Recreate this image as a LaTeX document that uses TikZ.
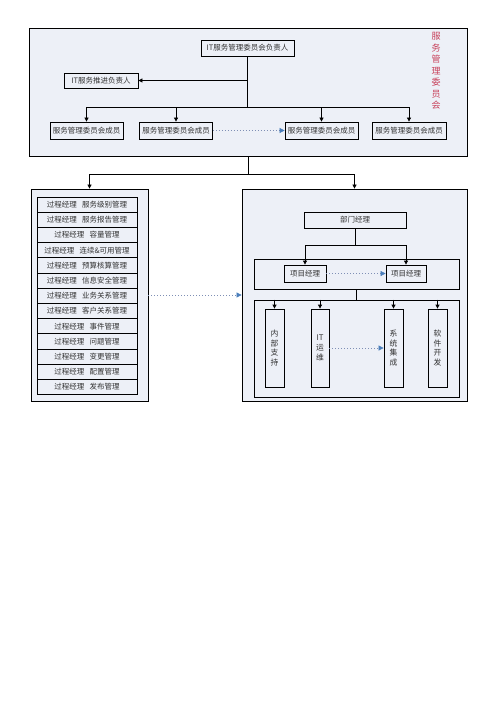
\documentclass[tikz,border=0pt]{standalone}
\usepackage{fontspec}
\newfontfamily\cjk{Noto Sans CJK SC}
\usetikzlibrary{arrows.meta}
\definecolor{bgc}{HTML}{EDF0F7}
\definecolor{txt}{HTML}{333333}
\definecolor{redtxt}{HTML}{C8405A}
\definecolor{dotc}{HTML}{7F8FB5}
\definecolor{headblue}{HTML}{4A7EBB}
\tikzset{
  box/.style={draw, fill=bgc, line width=0.8pt, inner sep=0pt, text=txt,
    font=\cjk\fontsize{7.5}{8}\selectfont},
  cont/.style={draw, fill=bgc, line width=0.8pt, inner sep=0pt},
  vbox/.style={draw, fill=bgc, line width=0.8pt, inner sep=0pt, text=txt, align=center,
    minimum width=19pt, minimum height=78pt,
    font=\cjk\fontsize{7.8}{9.7}\selectfont},
  conn/.style={line width=0.8pt},
  arr/.style={line width=0.8pt, -{Triangle[length=4pt,width=4pt]}},
  dotarr/.style={draw=dotc, line width=0.7pt, dash pattern=on 0.7pt off 2.3pt,
    -{Triangle[length=5pt,width=5pt,color=headblue,fill=headblue]}}
}
\newcommand{\gapsp}{\hspace{0.7em}}
\begin{document}
\begin{tikzpicture}[x=1pt,y=-1pt]
\useasboundingbox (0,0) rectangle (497,703);
% ---------- top committee ----------
\node[cont, minimum width=438pt, minimum height=128pt] (top) at (248,92) {};
\node[box, minimum width=93pt, minimum height=16pt] (head) at (247.5,48) {IT服务管理委员会负责人};
\node[box, minimum width=74pt, minimum height=15pt] (promo) at (101,80.5) {IT服务推进负责人};
\node[box, minimum width=73pt, minimum height=17pt] (m1) at (86.5,130.5) {服务管理委员会成员};
\node[box, minimum width=73pt, minimum height=17pt] (m2) at (176,130.5) {服务管理委员会成员};
\node[box, minimum width=73pt, minimum height=17pt] (m3) at (321.5,130.5) {服务管理委员会成员};
\node[box, minimum width=74pt, minimum height=17pt] (m4) at (409,130.5) {服务管理委员会成员};
\node[text=redtxt, align=center, inner sep=0pt, font=\cjk\fontsize{9}{11.5}\selectfont] (title) at (436,71)
  {服\\务\\管\\理\\委\\员\\会};
\coordinate (j1) at (247.5,80.5);
\coordinate (j2) at (247.5,107);
\draw[conn] (head.south) -- (j2);
\draw[arr] (j1) -- (promo.east);
\draw[arr] (j2) -| (m1.north);
\draw[arr] (j2) -| (m2.north);
\draw[arr] (j2) -| (m3.north);
\draw[arr] (j2) -| (m4.north);
\draw[dotarr] (m2.east) -- (m3.west);
% ---------- lower containers ----------
\node[cont, minimum width=117pt, minimum height=212pt] (left) at (89.5,295) {};
\node[cont, minimum width=225pt, minimum height=212pt] (right) at (354.5,295) {};
\coordinate (j3) at (248,174);
\draw[conn] (top.south) -- (j3);
\draw[arr] (j3) -| (left.north);
\draw[arr] (j3) -| (right.north);
% ---------- process managers ----------
\foreach \t [count=\i from 0] in {服务级别管理, 服务报告管理, 容量管理,
  连续\&可用管理, 预算核算管理, 信息安全管理, 业务关系管理,
  客户关系管理, 事件管理, 问题管理, 变更管理, 配置管理, 发布管理}{
  \node[box, minimum width=100pt, minimum height=15.2pt] (p\i) at (87,{204.6+15.2*\i}) {过程经理\gapsp\t};
}
\draw[dotarr] (left.east) -- (right.west);
% ---------- department ----------
\node[box, minimum width=102pt, minimum height=16pt] (dept) at (355,220) {部门经理};
\node[cont, minimum width=205pt, minimum height=30pt] (mid) at (356.5,274) {};
\node[cont, minimum width=205pt, minimum height=97pt] (bot) at (356.5,348.5) {};
\node[box, minimum width=42pt, minimum height=17pt] (pm1) at (305,273.5) {项目经理};
\node[box, minimum width=40pt, minimum height=17pt] (pm2) at (406,273.5) {项目经理};
\coordinate (j4) at (355,245);
\draw[conn] (dept.south) -- (j4);
\draw[arr] (j4) -| (pm1.north);
\draw[arr] (j4) -| (pm2.north);
\draw[dotarr] (pm1.east) -- (pm2.west);
\draw[conn] (mid.south) -- (bot.north);
\node[vbox] (c1) at (274.5,348) {内\\部\\支\\持};
\node[vbox, minimum width=18pt] (c2) at (320,348) {IT\\运\\维};
\node[vbox] (c3) at (393.5,348) {系\\统\\集\\成};
\node[vbox] (c4) at (437.5,348) {软\\件\\开\\发};
\draw[arr] (c1.north |- bot.north) -- (c1.north);
\draw[arr] (c2.north |- bot.north) -- (c2.north);
\draw[arr] (c3.north |- bot.north) -- (c3.north);
\draw[arr] (c4.north |- bot.north) -- (c4.north);
\draw[dotarr] (c2.east) -- (c3.west);
\end{tikzpicture}
\end{document}
